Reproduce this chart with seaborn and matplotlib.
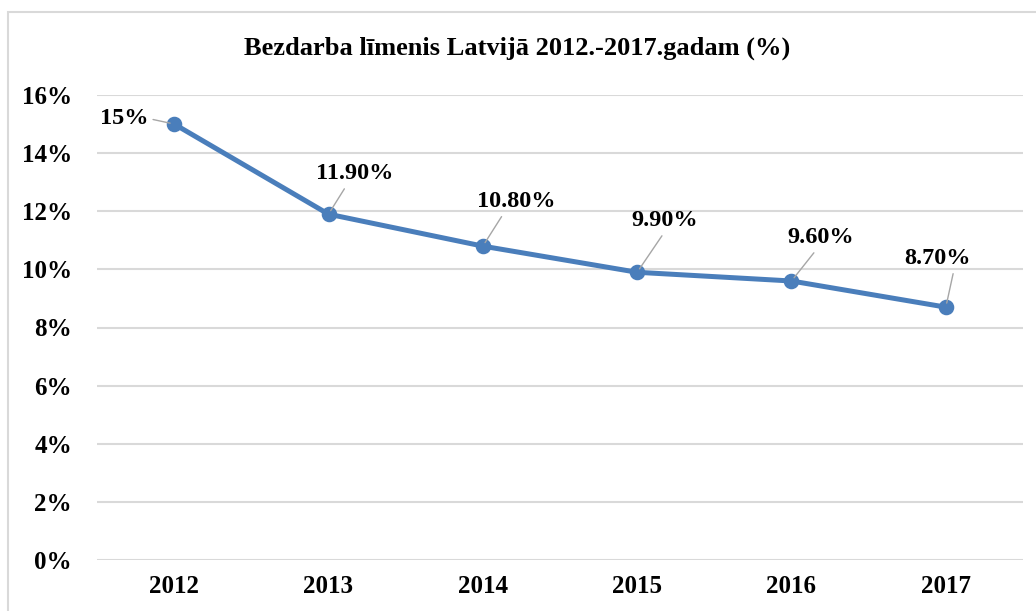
import matplotlib
matplotlib.use("Agg")
import matplotlib.pyplot as plt
from matplotlib.patches import Rectangle
import seaborn as sns

# dati
years = ["2012", "2013", "2014", "2015", "2016", "2017"]
rates = [15.0, 11.9, 10.8, 9.9, 9.6, 8.7]
labels = ["15%", "11.90%", "10.80%", "9.90%", "9.60%", "8.70%"]
# label offsets (points) from each marker
offsets = [(-36, 4), (19, 29), (24, 32), (20, 37), (21, 31), (-6, 35)]
# where the leader line leaves the label box
relpos = [(1.0, 0.5), (0.4, 0.0), (0.35, 0.0), (0.5, 0.0), (0.45, 0.0), (0.75, 0.0)]

sns.set_style("white")
plt.rcParams["font.family"] = ["Liberation Serif", "DejaVu Serif"]
plt.rcParams["font.weight"] = "bold"
plt.rcParams["text.color"] = "black"

W, H = 1036, 611
fig = plt.figure(figsize=(W / 100, H / 100), dpi=100)
ax = fig.add_axes([97 / W, 51 / H, (1023 - 97) / W, (560 - 95) / H])

line_col = "#4a7ebb"
sns.pointplot(x=years, y=rates, ax=ax, color=line_col, markers="o",
              linewidth=3.6, markersize=8.5)

ax.set_xlim(-0.5, len(years) - 0.5)
ax.set_ylim(0, 16)
ax.set_yticks(range(0, 17, 2))
ax.set_yticklabels([f"{v}%" for v in range(0, 17, 2)])
ax.yaxis.grid(True, color="#d9d9d9", linewidth=1.5)
ax.set_axisbelow(True)
for s in ax.spines.values():
    s.set_visible(False)
ax.tick_params(axis="both", length=0, labelsize=18, labelcolor="black")
ax.tick_params(axis="y", pad=18)
ax.tick_params(axis="x", pad=11)
for t in ax.get_xticklabels() + ax.get_yticklabels():
    t.set_fontweight("bold")
ax.set_xlabel("")
ax.set_ylabel("")

for i, (lab, off) in enumerate(zip(labels, offsets)):
    ax.annotate(lab, xy=(i, rates[i]), xytext=off, textcoords="offset points",
                ha="center", va="center", fontsize=17.5, fontweight="bold",
                color="black",
                arrowprops=dict(arrowstyle="-", color="#a6a6a6", lw=1.0,
                                relpos=relpos[i], shrinkA=1, shrinkB=3))

fig.text(517 / W, 1 - 48 / H, "Bezdarba līmenis Latvijā 2012.-2017.gadam (%)",
         ha="center", va="center", fontsize=19, fontweight="bold", color="black")

fig.patches.append(Rectangle((8 / W, -0.1), 1.2, 1 - 12 / H + 0.1,
                             transform=fig.transFigure, fill=False,
                             edgecolor="#d9d9d9", linewidth=1.5))

fig.savefig("out.png", dpi=100)
